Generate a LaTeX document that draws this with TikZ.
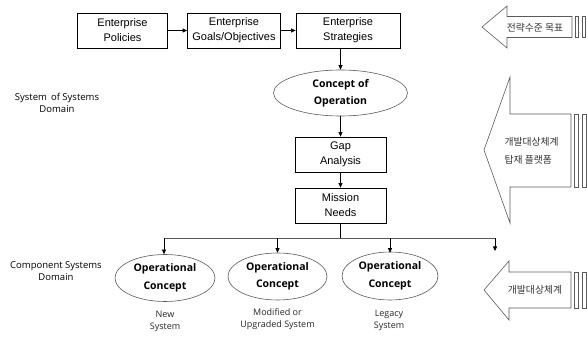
\documentclass[tikz,border=0pt]{standalone}
\usepackage{fontspec}
\setmainfont{Liberation Sans}
\newfontfamily\lblfont{Open Sans}
\newfontfamily\krfont{Noto Sans CJK KR}
\usetikzlibrary{shapes.geometric,arrows.meta}
\definecolor{shapegray}{RGB}{90,90,90}
\tikzset{
  box/.style={draw=black, line width=0.8pt, rectangle, minimum height=35pt, inner sep=0pt, align=center, font=\fontsize{11}{15}\selectfont},
  oval/.style={draw=shapegray, line width=0.6pt, ellipse, inner sep=0pt, align=center, font=\lblfont\bfseries\fontsize{10.5}{17.5}\selectfont},
  conn/.style={line width=0.6pt, -{Triangle[length=4.5pt,width=4pt]}},
  plain/.style={line width=0.6pt},
  bus/.style={line width=0.9pt, draw=black!65},
  sublbl/.style={align=center, text=black!85, font=\lblfont\fontsize{9}{12}\selectfont},
  domlbl/.style={align=center, font=\lblfont\fontsize{9.5}{11.5}\selectfont},
  bigarrow/.style={draw=shapegray, line width=0.6pt},
  krlbl/.style={font=\krfont\fontsize{9.8}{18}\selectfont, text=black!80, align=left}
}
\begin{document}
\begin{tikzpicture}[x=1pt,y=-1pt]
\useasboundingbox (0,0) rectangle (587,342);

% top boxes
\node[box, minimum width=90pt] (pol) at (122.5,30.5) {Enterprise\\Policies};
\node[box, minimum width=93pt] (goal) at (234,30.5) {Enterprise\\Goals/Objectives};
\node[box, minimum width=104pt] (strat) at (348,30.5) {Enterprise\\Strategies};

% concept of operation
\node[oval, minimum width=134pt, minimum height=46pt] (coo) at (340.5,93) {Concept of\\Operation};

% gap and mission
\node[box, minimum width=91pt] (gap) at (340.5,154.5) {Gap\\Analysis};
\node[box, minimum width=91pt] (mn) at (340.5,205.5) {Mission\\Needs};

% operational concepts
\node[oval, minimum width=100pt, minimum height=47pt] (oc1) at (165,278) {Operational\\Concept};
\node[oval, minimum width=99pt, minimum height=47pt] (oc2) at (277.5,276.5) {Operational\\Concept};
\node[oval, minimum width=96pt, minimum height=48pt] (oc3) at (390,276) {Operational\\Concept};

\node[sublbl] (l1) at (165,321) {New\\System};
\node[sublbl] (l2) at (277.5,319) {Modified or\\Upgraded System};
\node[sublbl] (l3) at (389,320) {Legacy\\System};

% domain labels
\node[domlbl] (sos) at (57,103) {System\,\ of Systems\\Domain};
\node[domlbl] (csd) at (56,271) {Component Systems\\Domain};

% connectors
\draw[conn] (pol.east) -- (goal.west);
\draw[conn] (goal.east) -- (strat.west);
\draw[conn] (coo.north |- strat.south) -- (coo.north);
\draw[conn] (coo.south) -- (gap.north);
\draw[conn] (gap.south) -- (mn.north);

\coordinate (busc) at (340.5,238);
\coordinate (busl) at (164,238);
\coordinate (busr) at (495,238);
\coordinate (freeend) at (495,251);
\draw[plain] (mn.south) -- (busc);
\draw[bus] (busl) -- (busr);
\draw[conn] (busl) -- (oc1.north -| busl);
\draw[conn] (oc2.north |- busl) -- (oc2.north);
\draw[conn] (oc3.north |- busl) -- ([yshift=-1pt]oc3.north);
\draw[conn] (busr) -- (freeend);

% striped arrows on the right
\draw[bigarrow] (482,27) -- (507,6) -- (507,16.5) -- (572,16.5) -- (572,37.5) -- (507,37.5) -- (507,48) -- cycle;
\draw[bigarrow] (575,16.5) rectangle (578.5,37.5);
\draw[bigarrow] (582,16.5) rectangle (585.5,37.5);
\node[krlbl] (k1) at (535,27.5) {전략수준 목표};

\draw[bigarrow] (484,150) -- (510,77) -- (510,114) -- (571,114) -- (571,187) -- (510,187) -- (510,223) -- cycle;
\draw[bigarrow] (574,114) rectangle (578,187);
\draw[bigarrow] (582,114) rectangle (586,187);
\node[krlbl, anchor=west] (k2) at (501,151) {개발대상체계\\탑재 플랫폼};

\draw[bigarrow] (484,290) -- (509,261) -- (509,272) -- (571,272) -- (571,308) -- (509,308) -- (509,320) -- cycle;
\draw[bigarrow] (574,272) rectangle (578,308);
\draw[bigarrow] (582,272) rectangle (586,308);
\node[krlbl] (k3) at (535,290) {개발대상체계};
\end{tikzpicture}
\end{document}
